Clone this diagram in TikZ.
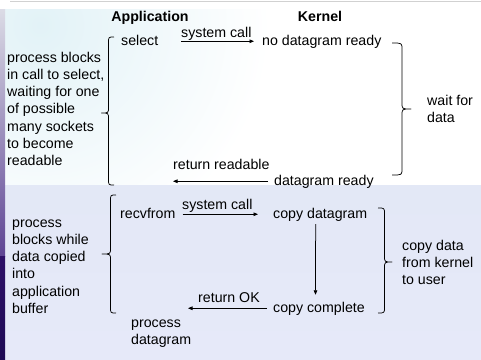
\documentclass[tikz,border=0pt]{standalone}
\usepackage{fontspec}
\setmainfont{Liberation Sans}
\usetikzlibrary{arrows.meta}
\definecolor{lowbgtop}{HTML}{E3E8F6}
\definecolor{lowbgbot}{HTML}{E6E9F9}
\definecolor{tint}{HTML}{E2F2F7}
\definecolor{stripA}{HTML}{DCDCE6}
\definecolor{stripB}{HTML}{5E4494}
\definecolor{stripC}{HTML}{2E1068}
\definecolor{stripD}{HTML}{1E0A55}
\begin{document}
\begin{tikzpicture}[x=1pt,y=-1pt,
  txt/.style={font=\fontsize{14.2}{17.2}\selectfont, inner sep=0pt,
    text height=10.5pt, text depth=3pt, anchor=base west},
  head/.style={font=\fontsize{14.2}{17.2}\selectfont\bfseries, inner sep=0pt, anchor=base},
  block/.style={font=\fontsize{14.2}{17.2}\selectfont, inner sep=0pt, align=left, anchor=north west},
  arr/.style={line width=0.75pt, -{Triangle[length=4.5pt,width=3.6pt]}},
  brc/.style={line width=0.75pt, line join=round}]
\useasboundingbox (0,0) rectangle (481,359);

% backdrop
\fill[white] (0,0) rectangle (481,359);
\draw[black!18, line width=0.8pt] (10,1.5) -- (481,1.5);
\begin{scope}
  \clip (5,9) rectangle (481,185);
  \shade[inner color=tint, outer color=white] (40,25) circle (230);
\end{scope}
\shade[top color=lowbgtop, bottom color=lowbgbot] (5,185) rectangle (481,359);
\shade[top color=stripA, bottom color=stripB] (0,9) rectangle (5,256);
\shade[top color=stripC, bottom color=stripD] (0,256) rectangle (5,359);

% column headings
\node[head] (app) at (150,21) {Application};
\node[head] (ker) at (320,21) {Kernel};

% select phase
\node[txt] (sel) at (121,45) {select};
\node[txt] (ndr) at (262,45) {no datagram ready};
\node[txt] (sc1) at (181,37.5) {system call};
\node[txt] (rr)  at (173,169.3) {return readable};
\node[txt] (dr)  at (274,185) {datagram ready};
\draw[arr, shorten <=23pt, shorten >=8pt] (sel) -- (ndr);
\draw[arr, shorten <=6pt] (dr) -- (dr -| rr.west);

\node[block] (wl) at (7,51.5) {\rule{0pt}{10.5pt}process blocks\\in call to select,\\waiting for one\\of possible\\many sockets\\to become\\readable};
\node[block] (wr) at (427,94.5) {\rule{0pt}{10.5pt}wait for\\data};

% recvfrom phase
\node[txt] (rf) at (120,218) {recvfrom};
\node[txt] (cd) at (273,218) {copy datagram};
\node[txt] (sc2) at (182,209) {system call};
\node[txt] (ro) at (198,302) {return OK};
\node[txt] (cc) at (273,312) {copy complete};
\coordinate (okend) at (188,0);
\draw[arr, shorten <=7pt, shorten >=15pt] (rf) -- (cd);
\draw[arr, shorten <=3pt, shorten >=6.5pt] ([xshift=-4.5pt]cd.south) -- ([xshift=-3.5pt]cc.north);
\draw[arr, shorten <=6pt] (cc) -- (cc -| okend);

\node[block] (bl) at (12,216.5) {\rule{0pt}{10.5pt}process\\blocks while\\data copied\\into\\application\\buffer};
\node[block] (br) at (402,239.5) {\rule{0pt}{10.5pt}copy data\\from kernel\\to user};
\node[block] (pd) at (131,316.5) {\rule{0pt}{10.5pt}process\\datagram};

% braces
\draw[brc] (114,37) .. controls (108.5,37) .. (108.5,43) -- (108.5,107)
  .. controls (108.5,113) .. (101.5,113) .. controls (108.5,113) .. (108.5,119)
  -- (108.5,179) .. controls (108.5,185) .. (114,185);
\draw[brc] (392,43) .. controls (402,43) .. (402,49) -- (402,103)
  .. controls (402,109) .. (411,109) .. controls (402,109) .. (402,115)
  -- (402,169) .. controls (402,175) .. (392,175);
\draw[brc] (116,195) .. controls (110.5,195) .. (110.5,201) -- (110.5,248)
  .. controls (110.5,254) .. (102,254) .. controls (110.5,254) .. (110.5,260)
  -- (110.5,307) .. controls (110.5,313) .. (116,313);
\draw[brc] (378,208) .. controls (384.5,208) .. (384.5,214) -- (384.5,256)
  .. controls (384.5,262) .. (392,262) .. controls (384.5,262) .. (384.5,268)
  -- (384.5,307) .. controls (384.5,313) .. (378,313);
\end{tikzpicture}
\end{document}
